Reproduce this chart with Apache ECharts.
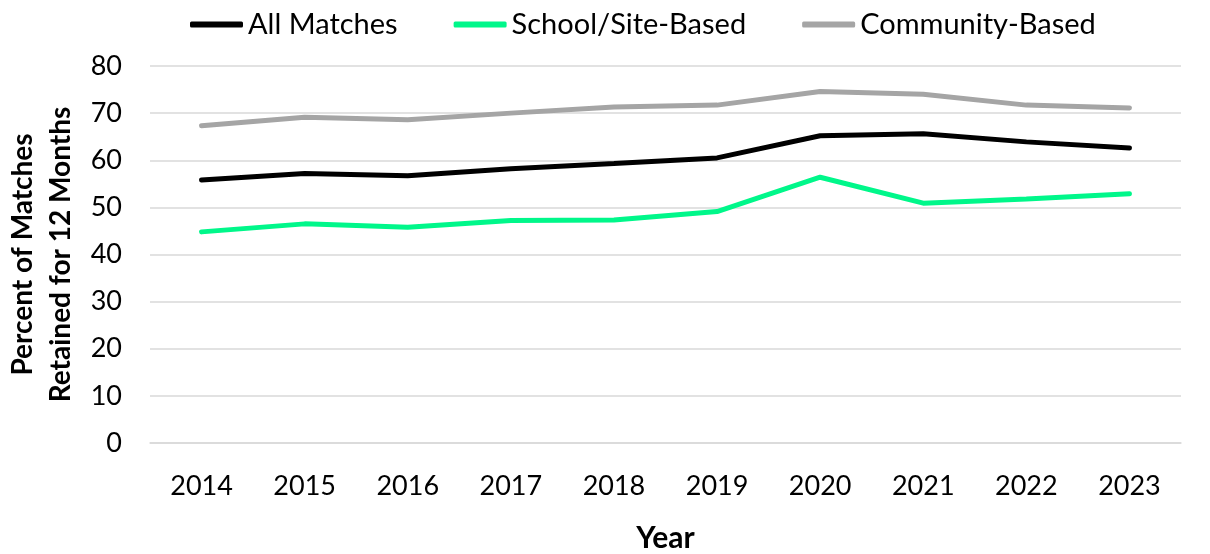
<!DOCTYPE html>
<html>
<head>
<meta charset="utf-8">
<script src="https://cdn.jsdelivr.net/npm/echarts@6/dist/echarts.min.js"></script>
<style>
  html, body { margin: 0; padding: 0; background: #fff; }
  #chart { width: 1210px; height: 554px; }
</style>
</head>
<body>
<div id="chart"></div>
<script>
// Years on the x axis
const years = ['2014', '2015', '2016', '2017', '2018', '2019', '2020', '2021', '2022', '2023']

// Percent of matches retained for 12 months
const allMatches = [55.8, 57.2, 56.7, 58.2, 59.3, 60.5, 65.2, 65.6, 63.9, 62.6]
const schoolSite = [44.8, 46.5, 45.8, 47.2, 47.3, 49.1, 56.4, 50.9, 51.8, 52.9]
const community = [67.3, 69.1, 68.6, 70.0, 71.3, 71.7, 74.6, 74.0, 71.7, 71.1]

const font = 'Lato, "Open Sans", sans-serif'

const chart = echarts.init(document.getElementById('chart'))

const lineSeries = (name, data, color) => ({
  name,
  type: 'line',
  data,
  symbol: 'none',
  lineStyle: { color, width: 5, cap: 'round' },
  itemStyle: { color },
  animation: false
})

chart.setOption({
  textStyle: { fontFamily: font },
  legend: {
    top: 5,
    left: 185,
    itemGap: 56,
    icon: 'roundRect',
    itemWidth: 53,
    itemHeight: 6,
    textStyle: { fontSize: 29, color: '#000', fontFamily: font },
    data: ['All Matches', 'School/Site-Based', 'Community-Based']
  },
  grid: {
    left: 150,
    right: 29,
    top: 66,
    bottom: 111,
    containLabel: false,
    outerBoundsMode: 'none'
  },
  xAxis: {
    type: 'category',
    data: years,
    name: 'Year',
    nameLocation: 'middle',
    nameGap: 80,
    nameTextStyle: { fontSize: 30, fontWeight: 'bold', color: '#000' },
    axisLine: { lineStyle: { color: '#d9d9d9', width: 1.5 } },
    axisTick: { show: false },
    axisLabel: { fontSize: 27, color: '#000', margin: 30 }
  },
  yAxis: {
    type: 'value',
    min: 0,
    max: 80,
    interval: 10,
    name: 'Percent of Matches\nRetained for 12 Months',
    nameLocation: 'middle',
    nameGap: 68,
    nameTextStyle: { fontSize: 28, fontWeight: 'bold', color: '#000', lineHeight: 38 },
    axisLine: { show: false },
    axisTick: { show: false },
    axisLabel: { fontSize: 27, color: '#000', margin: 28 },
    splitLine: { lineStyle: { color: '#d9d9d9', width: 1.5 } }
  },
  series: [
    lineSeries('All Matches', allMatches, '#000000'),
    lineSeries('School/Site-Based', schoolSite, '#00f78a'),
    lineSeries('Community-Based', community, '#a5a5a5')
  ]
})
</script>
</body>
</html>
